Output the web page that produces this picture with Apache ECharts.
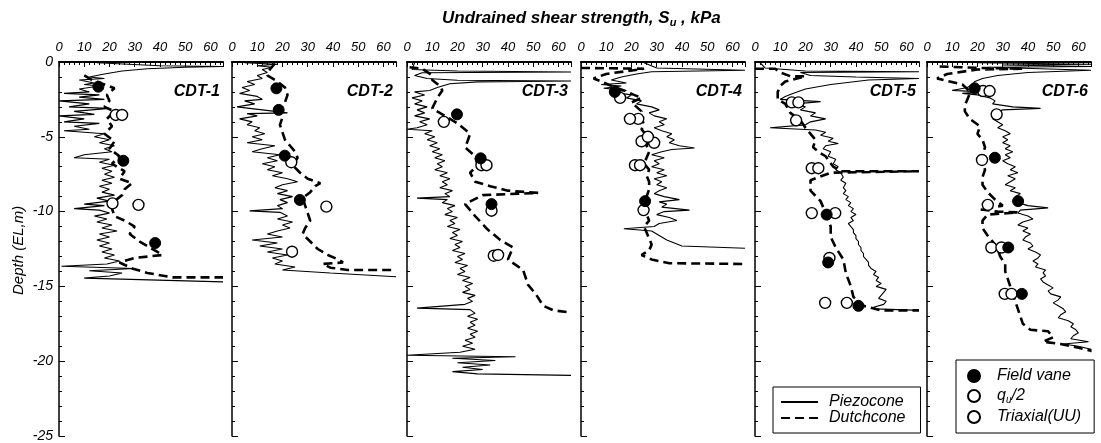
<!DOCTYPE html>
<html>
<head>
<meta charset="utf-8">
<script src="https://cdn.jsdelivr.net/npm/echarts@6/dist/echarts.min.js"></script>
<style>
  html, body { margin: 0; padding: 0; background: #fff; }
  #chart { width: 1101px; height: 443px; }
</style>
</head>
<body>
<div id="chart"></div>
<script>
// Profiles of undrained shear strength with depth at six sites.
// Each pair is [depth below datum (m), Su (kPa)].

const siteNames = ['CDT-1', 'CDT-2', 'CDT-3', 'CDT-4', 'CDT-5', 'CDT-6'];
const xTickLabels = ['0', '10', '20', '30', '40', '50', '60'];
const yTickLabels = ['0', '-5', '-10', '-15', '-20', '-25'];

const piezo1 = [[0.05,15],[0.25,40],[0.3,65],[0.35,50],[0.45,35],[0.6,25],[0.8,18],[1.0,12],[1.1,18],[1.2,8],[1.4,14],[1.5,10],[1.6,16],[1.8,8],[2.0,12],[2.1,2],[2.2,16],[2.35,8],[2.5,18],[2.6,0],[2.8,12],[3.0,4],[3.1,20],[3.3,6],[3.5,14],[3.6,0],[3.8,10],[4.0,2],[4.1,16],[4.3,6],[4.5,12],[4.6,2],[4.8,18],[5.0,14],[5.2,20],[5.4,16],[5.6,22],[5.8,18],[6.0,21],[6.2,10],[6.4,6],[6.5,20],[6.7,16],[6.9,22],[7.1,17],[7.3,21],[7.5,18],[7.7,22],[7.9,17],[8.1,21],[8.3,16],[8.5,20],[8.7,17],[8.9,22],[9.1,15],[9.3,20],[9.5,10],[9.6,18],[9.8,6],[9.9,16],[10.1,20],[10.3,14],[10.5,19],[10.7,15],[10.9,21],[11.1,17],[11.3,23],[11.5,16],[11.7,20],[11.9,15],[12.1,20],[12.3,16],[12.5,21],[12.7,17],[12.9,22],[13.1,18],[13.3,24],[13.5,19],[13.65,1],[13.8,30],[13.95,12],[14.1,25],[14.3,20],[14.45,10],[14.7,65]];
const dutch1 = [[0.9,10],[1.2,13],[1.5,18],[1.75,22],[2.2,19],[2.6,20],[3.0,18],[3.3,22],[3.8,19],[4.3,21],[4.8,18],[5.3,22],[5.8,20],[6.3,24],[6.8,21],[7.3,26],[7.8,24],[8.1,29],[8.5,26],[8.9,25],[9.3,22],[9.8,21],[10.3,22],[10.6,26],[11.0,30],[11.5,28],[12.0,32],[12.4,36],[12.7,39],[12.9,41],[13.1,30],[13.4,24],[13.8,29],[14.1,35],[14.4,45],[14.4,65]];
const vane1 = [[1.65,15.6],[6.6,25.5],[12.1,38.1]];
const qu1 = [[3.54,22.5],[9.45,21.2]];
const triax1 = [[3.54,25.0],[9.55,31.5]];

const piezo2 = [[0.05,5],[0.15,18],[0.25,10],[0.35,16],[0.5,12],[0.7,14],[0.9,10],[1.1,12],[1.3,6],[1.5,9],[1.7,4],[1.9,7],[2.1,3],[2.3,10],[2.5,12],[2.6,5],[2.8,9],[3.0,2],[3.2,12],[3.4,22],[3.45,6],[3.6,10],[3.8,3],[4.0,8],[4.2,6],[4.4,11],[4.6,9],[4.8,13],[5.0,8],[5.2,12],[5.4,6],[5.6,17],[5.8,12],[6.0,8],[6.2,19],[6.4,14],[6.6,18],[6.8,12],[7.0,17],[7.2,14],[7.4,20],[7.6,16],[7.8,22],[8.0,26],[8.2,20],[8.4,17],[8.6,22],[8.8,18],[9.0,24],[9.2,19],[9.4,22],[9.6,18],[9.8,20],[9.95,7],[10.05,19],[10.3,22],[10.5,18],[10.7,24],[10.9,20],[11.1,23],[11.3,18],[11.5,14],[11.7,20],[11.9,8],[12.1,18],[12.3,11],[12.5,20],[12.7,14],[12.9,22],[13.1,16],[13.3,20],[13.5,17],[13.7,25],[13.9,20],[14.1,39],[14.35,65]];
const dutch2 = [[0.1,17],[0.5,15],[0.9,14],[1.3,18],[1.7,21],[2.2,22],[2.7,21],[3.2,19],[3.7,20],[4.2,19],[4.7,20],[5.2,21],[5.6,23],[6.0,25],[6.4,26],[6.9,24],[7.4,27],[7.8,30],[8.1,35],[8.3,33],[8.7,31],[9.1,28],[9.6,29],[10.1,30],[10.6,31],[11.1,29],[11.5,28],[12.0,31],[12.5,34],[12.9,38],[13.2,42],[13.4,44],[13.5,36],[13.75,39],[13.9,46],[13.9,65]];
const vane2 = [[1.76,17.6],[3.2,18.5],[6.26,20.9],[9.22,26.9]];
const qu2 = [[9.67,37.4]];
const triax2 = [[6.7,23.5],[12.68,23.8]];

const piezo3 = [[0.05,3],[0.5,2],[0.6,20],[0.67,65],[0.72,6],[0.9,3],[1.1,8],[1.22,20],[1.27,65],[1.33,28],[1.45,17],[1.7,12],[1.9,9],[2.0,3],[2.2,7],[2.4,2],[2.6,6],[2.8,3],[3.0,8],[3.2,4],[3.4,7],[3.6,3],[3.8,9],[4.0,5],[4.2,8],[4.4,4],[4.5,0],[4.6,10],[4.8,7],[5.0,11],[5.2,8],[5.4,12],[5.6,9],[5.8,13],[6.0,10],[6.2,14],[6.4,11],[6.6,15],[6.8,12],[7.0,14],[7.2,11],[7.4,16],[7.6,13],[7.8,17],[8.0,14],[8.2,16],[8.4,13],[8.6,18],[8.8,15],[9.0,17],[9.1,4],[9.2,16],[9.4,14],[9.6,19],[9.8,16],[10.0,18],[10.2,15],[10.4,20],[10.6,17],[10.8,19],[11.0,16],[11.2,21],[11.4,18],[11.6,20],[11.8,17],[12.0,22],[12.2,19],[12.4,21],[12.6,18],[12.8,23],[13.0,20],[13.2,22],[13.4,19],[13.6,24],[13.8,21],[14.0,23],[14.2,20],[14.4,25],[14.6,22],[14.8,26],[15.0,23],[15.2,25],[15.4,22],[15.6,27],[15.8,24],[16.0,26],[16.2,23],[16.45,4],[16.55,25],[16.8,27],[17.0,24],[17.2,28],[17.4,25],[17.6,27],[17.8,24],[18.0,28],[18.2,25],[18.4,27],[18.6,23],[18.8,26],[19.0,22],[19.2,27],[19.4,21],[19.6,0],[19.7,43],[19.8,18],[19.95,35],[20.1,20],[20.25,33],[20.4,22],[20.55,30],[20.7,18],[20.85,28],[20.95,65]];
const dutch3 = [[0.35,1],[0.45,6],[0.9,10],[1.2,10],[1.6,13],[1.9,14],[2.4,12],[3.1,10],[3.6,15],[4.1,20],[4.8,25],[5.3,24],[5.7,23],[6.3,27],[6.9,28],[7.4,25],[8.0,27],[8.3,33],[8.6,40],[8.75,52],[8.9,30],[9.5,23],[10.3,27],[11.2,32],[11.9,37],[12.4,42],[13.2,40],[13.9,46],[14.9,48],[15.5,51],[16.3,54],[16.6,58],[16.75,65]];
const vane3 = [[3.5,19.8],[6.44,29.2],[9.5,33.5]];
const qu3 = [[6.9,29.5],[9.94,33.5],[12.95,34.4]];
const triax3 = [[4.0,14.6],[6.9,31.5],[12.9,36.1]];

const piezo4 = [[0.05,25],[0.4,30],[0.55,65],[0.65,28],[0.8,22],[1.0,16],[1.2,12],[1.4,18],[1.5,8],[1.6,16],[1.75,9],[1.9,18],[2.0,12],[2.2,20],[2.4,18],[2.6,24],[2.8,22],[3.0,28],[3.2,31],[3.4,27],[3.6,29],[3.8,34],[4.0,31],[4.2,33],[4.4,29],[4.6,32],[4.8,36],[5.0,34],[5.2,37],[5.4,35],[5.6,39],[5.75,45],[5.85,36],[6.0,32],[6.2,28],[6.4,33],[6.6,29],[6.8,31],[7.0,28],[7.2,33],[7.4,30],[7.6,34],[7.8,29],[8.0,32],[8.2,30],[8.4,34],[8.6,31],[8.8,29],[9.0,33],[9.2,39],[9.35,31],[9.5,34],[9.7,32],[9.9,43],[10.0,33],[10.2,30],[10.4,35],[10.6,38],[10.8,31],[11.0,29],[11.15,17],[11.3,28],[11.5,30],[11.7,32],[11.9,34],[12.1,37],[12.3,40],[12.45,65]];
const dutch4 = [[0.4,0],[0.42,12],[0.45,25],[0.8,10],[1.1,5],[1.3,8],[1.6,12],[1.9,17],[2.2,21],[2.4,24],[2.7,20],[3.0,22],[3.3,24],[3.7,23],[4.1,25],[4.5,24],[4.9,26],[5.3,27],[5.6,26],[6.0,27],[6.4,26],[6.8,25],[7.2,27],[7.6,26],[8.0,27],[8.5,27],[9.0,26],[9.4,25],[9.8,26],[10.2,26],[10.6,27],[11.0,25],[11.4,26],[11.8,27],[12.2,28],[12.6,27],[12.9,24],[13.2,28],[13.45,35],[13.5,65]];
const vane4 = [[2.0,13.4],[9.3,25.4]];
const qu4 = [[2.4,15.5],[3.8,22.7],[5.3,24.0],[6.9,21.4],[9.9,24.8]];
const triax4 = [[3.8,19.4],[5.4,29.0],[6.9,23.4],[5.0,26.5]];

const piezo5 = [[0.05,2],[0.4,4],[0.6,20],[0.65,65],[0.7,18],[0.9,22],[1.0,40],[1.1,65],[1.2,45],[1.5,30],[1.8,20],[2.1,15],[2.3,12],[2.5,10],[2.65,26],[2.8,16],[3.0,20],[3.2,18],[3.4,24],[3.6,22],[3.8,28],[4.0,22],[4.2,20],[4.4,6],[4.55,24],[4.7,28],[4.9,26],[5.1,31],[5.3,29],[5.45,33],[5.6,28],[5.8,27],[6.0,30],[6.3,29],[6.5,32],[6.8,31],[7.0,33],[7.2,32],[7.4,34],[7.7,35],[7.9,34],[8.1,36],[8.4,35],[8.6,36],[8.8,35],[9.0,37],[9.2,36],[9.4,38],[9.6,37],[9.8,39],[10.0,38],[10.2,40],[10.4,38],[10.6,39],[10.8,37],[11.0,38],[11.2,39],[11.4,39],[11.6,40],[11.8,40],[12.0,41],[12.2,41],[12.4,42],[12.6,42],[12.8,43],[13.0,43],[13.2,44],[13.4,45],[13.6,45],[13.8,46],[14.0,48],[14.2,47],[14.4,49],[14.6,48],[14.8,50],[15.0,48],[15.2,52],[15.4,51],[15.6,50],[15.8,49],[16.0,52],[16.2,51],[16.4,47],[16.5,48],[16.6,65]];
const dutch5 = [[0.45,0],[0.45,8],[0.7,10],[0.95,14],[0.95,20],[1.3,12],[1.6,10],[2.0,9],[2.5,9],[2.8,12],[3.4,14],[3.9,18],[4.4,20],[4.8,22],[5.2,24],[5.7,23],[6.1,26],[6.3,28],[7.0,31],[7.3,34],[7.3,65],[7.4,30],[7.9,22],[8.6,22],[9.3,26],[10.1,28],[11.0,30],[11.7,30],[12.4,32],[13.2,35],[14.1,36],[15.0,38],[15.7,39],[16.3,43],[16.6,50],[16.6,65]];
const vane5 = [[10.2,28.4],[13.4,29.0],[16.3,41.0]];
const qu5 = [[2.7,14.6],[3.9,16.3],[7.1,22.5],[10.1,22.5],[16.1,27.8]];
const triax5 = [[2.7,17.2],[7.1,25.1],[10.1,31.8],[13.1,29.5],[16.1,36.4]];

const piezo6 = [[0.05,20],[0.15,65],[0.2,30],[0.3,65],[0.35,25],[0.45,45],[0.55,65],[0.7,40],[0.9,28],[1.1,22],[1.3,19],[1.5,18],[1.7,16],[1.9,10],[2.0,22],[2.1,14],[2.2,20],[2.4,25],[2.6,27],[2.8,26],[3.0,34],[3.1,45],[3.2,30],[3.4,27],[3.6,29],[3.8,26],[4.0,28],[4.2,30],[4.4,28],[4.6,31],[4.8,33],[5.0,30],[5.2,32],[5.4,30],[5.6,33],[5.8,31],[6.0,34],[6.2,31],[6.4,33],[6.6,30],[6.8,32],[7.0,35],[7.2,33],[7.4,36],[7.6,32],[7.8,35],[8.0,33],[8.2,31],[8.4,35],[8.6,33],[8.8,37],[9.0,35],[9.2,38],[9.4,36],[9.6,40],[9.75,48],[9.9,37],[10.1,36],[10.3,40],[10.5,42],[10.7,38],[10.9,36],[11.1,40],[11.3,38],[11.5,41],[11.7,39],[11.9,38],[12.1,41],[12.3,42],[12.5,40],[12.7,43],[12.9,45],[13.1,44],[13.3,42],[13.5,44],[13.7,43],[13.9,47],[14.1,46],[14.3,47],[14.5,45],[14.7,46],[14.9,48],[15.1,50],[15.3,48],[15.5,49],[15.7,53],[15.9,52],[16.1,50],[16.3,52],[16.5,54],[16.7,55],[16.9,53],[17.1,52],[17.3,56],[17.5,58],[17.7,57],[17.9,59],[18.1,60],[18.3,58],[18.5,57],[18.7,64],[18.85,54],[19.0,60],[19.2,65],[19.4,65]];
const dutch6 = [[0.3,5],[0.35,14],[0.4,22],[0.45,38],[0.5,20],[0.8,8],[1.1,4],[1.3,9],[1.5,14],[1.8,16],[2.1,17],[2.5,16],[2.9,15],[3.3,15],[3.8,17],[4.3,21],[4.8,20],[5.2,22],[5.7,23],[6.2,22],[6.7,22],[7.2,23],[7.7,22],[8.2,22],[8.7,24],[9.2,27],[9.6,30],[9.85,21],[10.0,28],[10.05,36],[10.2,24],[10.6,22],[11.1,22],[11.6,24],[12.0,26],[12.5,28],[13.0,29],[13.5,31],[14.0,31],[14.5,32],[15.0,33],[15.5,34],[16.0,35],[16.5,36],[17.0,37],[17.5,38],[17.9,41],[18.0,48],[18.4,50],[18.7,46],[18.85,53],[19.1,60],[19.3,65]];
const vane6 = [[1.76,18.9],[6.4,26.9],[9.3,36.1],[12.4,32.2],[15.5,37.6]];
const qu6 = [[1.94,22.2],[3.5,27.6],[6.55,21.8],[9.55,24.1],[12.4,25.5],[15.5,30.8]];
const triax6 = [[1.94,24.8],[12.4,29.5],[15.5,33.5]];

const piezoSets = [piezo1, piezo2, piezo3, piezo4, piezo5, piezo6];
const dutchSets = [dutch1, dutch2, dutch3, dutch4, dutch5, dutch6];
const vaneSets = [vane1, vane2, vane3, vane4, vane5, vane6];
const quSets = [qu1, qu2, qu3, qu4, qu5, qu6];
const triaxSets = [triax1, triax2, triax3, triax4, triax5, triax6];

// layout of the six side-by-side panels
const FONT = '"Liberation Sans", Arial, sans-serif';
const panelLeft = [59, 232, 407, 581, 755, 927];
const panelWidth = 164;
const panelTop = 62;
const panelHeight = 374;

// [depth, Su] -> [Su, elevation]
const toXY = rows => rows.map(([d, s]) => [s, -d]);

const grids = [], xAxes = [], yAxes = [], series = [], graphics = [];

panelLeft.forEach((left, k) => {
  grids.push({ left: left, top: panelTop, width: panelWidth, height: panelHeight });
  xAxes.push({
    type: 'value', gridIndex: k, position: 'top', min: 0, max: 65, interval: 10,
    axisLine: { show: true, lineStyle: { color: '#000', width: 2 } },
    axisTick: { show: true, inside: true, length: 5, lineStyle: { color: '#000', width: 1 } },
    minorTick: { show: true, splitNumber: 5, length: 3, lineStyle: { color: '#000', width: 1 } },
    splitLine: { show: false },
    axisLabel: {
      show: true, margin: 8, color: '#000', fontFamily: FONT, fontStyle: 'italic', fontSize: 13,
      formatter: v => xTickLabels[v / 10] !== undefined ? xTickLabels[v / 10] : ''
    }
  });
  yAxes.push({
    type: 'value', gridIndex: k, min: -25, max: 0, interval: 5,
    axisLine: { show: true, onZero: false, lineStyle: { color: '#000', width: 1.5 } },
    axisTick: { show: true, inside: true, length: 6, lineStyle: { color: '#000', width: 1 } },
    minorTick: { show: true, splitNumber: 5, length: 3, lineStyle: { color: '#000', width: 1 } },
    splitLine: { show: false },
    axisLabel: {
      show: k === 0, margin: 6, color: '#000', fontFamily: FONT, fontStyle: 'italic', fontSize: 14,
      formatter: v => yTickLabels[-v / 5]
    }
  });

  series.push({
    name: 'Piezocone', type: 'line', xAxisIndex: k, yAxisIndex: k,
    data: toXY(piezoSets[k]), symbol: 'none', clip: true, z: 2,
    itemStyle: { color: '#000' },
    lineStyle: { color: '#000', width: 1.1 }, animation: false
  });
  series.push({
    name: 'Dutchcone', type: 'line', xAxisIndex: k, yAxisIndex: k,
    data: toXY(dutchSets[k]), symbol: 'none', clip: true, z: 3,
    itemStyle: { color: '#000' },
    lineStyle: { color: '#000', width: 2.6, type: [9, 5] }, animation: false
  });
  series.push({
    name: 'Field vane', type: 'scatter', xAxisIndex: k, yAxisIndex: k,
    data: toXY(vaneSets[k]), symbol: 'circle', symbolSize: 11, z: 5,
    itemStyle: { color: '#000', borderColor: '#000', borderWidth: 1, opacity: 1 }, animation: false
  });
  series.push({
    name: 'qu/2', type: 'scatter', xAxisIndex: k, yAxisIndex: k,
    data: toXY(quSets[k]), symbol: 'circle', symbolSize: 11, z: 4,
    itemStyle: { color: '#fff', borderColor: '#000', borderWidth: 1.4, opacity: 1 }, animation: false
  });
  series.push({
    name: 'Triaxial(UU)', type: 'scatter', xAxisIndex: k, yAxisIndex: k,
    data: toXY(triaxSets[k]), symbol: 'circle', symbolSize: 11, z: 4,
    itemStyle: { color: '#fff', borderColor: '#000', borderWidth: 1.4, opacity: 1 }, animation: false
  });

  graphics.push({
    type: 'text', x: left + panelWidth - 3, y: 92,
    style: { text: siteNames[k], font: 'italic bold 16px ' + FONT, fill: '#000', textAlign: 'right', textVerticalAlign: 'middle' }
  });
});

graphics.push({
  type: 'text', x: 11, y: 295, rotation: Math.PI / 2,
  style: { text: 'Depth (EL,m)', font: 'italic 15px ' + FONT, fill: '#000' }
});

const hideSymbol = { opacity: 0 };

const chart = echarts.init(document.getElementById('chart'), null, { renderer: 'canvas' });
chart.setOption({
  animation: false,
  backgroundColor: '#fff',
  title: {
    text: '{t|Undrained shear strength, S}{s|u}{t| , kPa}',
    left: 437, top: 3,
    textStyle: {
      rich: {
        t: { fontFamily: FONT, fontStyle: 'italic', fontSize: 17, color: '#000' },
        s: { fontFamily: FONT, fontStyle: 'italic', fontSize: 11, color: '#000', padding: [9, 0, 0, 0] }
      }
    }
  },
  grid: grids,
  xAxis: xAxes,
  yAxis: yAxes,
  legend: [
    {
      data: [
        { name: 'Piezocone', itemStyle: hideSymbol },
        { name: 'Dutchcone', itemStyle: hideSymbol }
      ],
      orient: 'vertical', left: 773, top: 387,
      borderColor: '#000', borderWidth: 1, borderRadius: 0,
      padding: [7, 15, 7, 7], itemGap: 0, itemWidth: 37, itemHeight: 15,
      selectedMode: false,
      textStyle: { fontFamily: FONT, fontStyle: 'italic', fontSize: 16, color: '#000', padding: [0, 0, 0, 6] }
    },
    {
      data: ['Field vane', 'qu/2', 'Triaxial(UU)'], orient: 'vertical', left: 956, top: 360,
      borderColor: '#000', borderWidth: 1, borderRadius: 0,
      padding: [8, 13, 8, 11], itemGap: 4, itemWidth: 12, itemHeight: 16,
      selectedMode: false,
      formatter: name => name === 'qu/2' ? '{t|q}{s|u}{t|/2}' : '{t|' + name + '}',
      textStyle: {
        color: '#000', padding: [0, 0, 0, 12],
        rich: {
          t: { fontFamily: FONT, fontStyle: 'italic', fontSize: 16, color: '#000' },
          s: { fontFamily: FONT, fontStyle: 'italic', fontSize: 10, color: '#000', padding: [8, 0, 0, 0] }
        }
      }
    }
  ],
  graphic: graphics,
  series: series
});
</script>
</body>
</html>
